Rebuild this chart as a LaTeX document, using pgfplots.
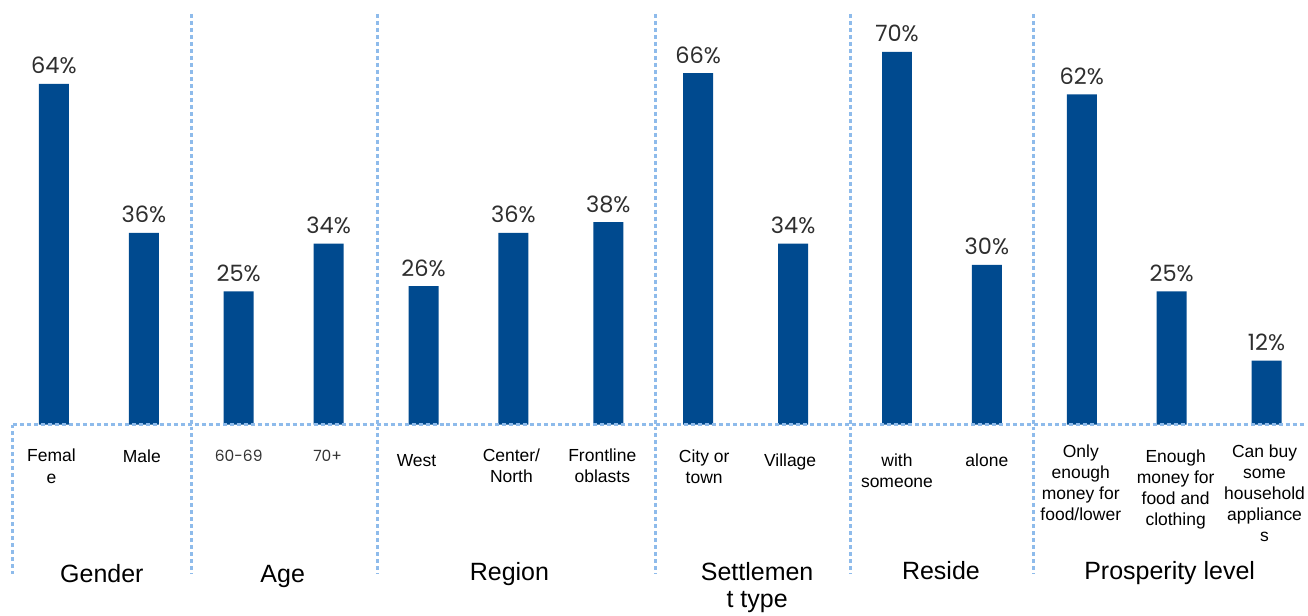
\documentclass[border=0pt]{standalone}
\usepackage{pgfplots}
\pgfplotsset{compat=1.18}
\usepackage{fontspec}
\setmainfont{Liberation Sans}
\newfontfamily\pop{Poppins}
\definecolor{barblue}{RGB}{0,74,143}
\definecolor{dotblue}{RGB}{142,187,235}
\newcommand{\cat}[3]{\node[anchor=base, inner sep=0pt, font=\fontsize{17.5bp}{21bp}\selectfont] at (#1,#2) {#3};}
\newcommand{\grp}[3]{\node[anchor=base, inner sep=0pt, font=\fontsize{25bp}{30bp}\selectfont] at (#1,#2) {#3};}
\begin{document}
\begin{tikzpicture}
\begin{axis}[
  scale only axis, width=1308bp, height=616bp,
  xmin=0, xmax=1308, ymin=-35.83, ymax=79.74,
  hide axis, clip=false,
  ybar, bar width=30,
  /pgf/number format/assume math mode=true,
  nodes near coords={\pgfmathprintnumber[assume math mode=true]{\pgfplotspointmeta}\%},
  nodes near coords style={font=\pop\fontsize{22.5bp}{26bp}\selectfont, color=black!82, anchor=base, yshift=10bp, inner sep=0pt},
]
\addplot[fill=barblue, draw=none] coordinates {
 (54,64) (144,36)
 (239,25) (329,34)
 (424,26) (514,36) (609,38)
 (699,66) (794,34)
 (898,70) (988,30)
 (1083,62) (1173,25) (1268,12)
};
\path (rel axis cs:0,0) rectangle (rel axis cs:1,1);
\end{axis}
\begin{scope}[x=1bp, y=-1bp, yshift=616bp]
\begin{scope}[dotblue, line width=3bp, dash pattern=on 4bp off 3bp]
\draw (13,425) -- (1308,425);
\draw (13,425) -- (13,575);
\foreach \xx in {192,378,656,851,1035} {\draw (\xx,14) -- (\xx,575);}
\end{scope}
\cat{51.5}{462.5}{Femal}
\cat{51.5}{484}{e}
\cat{142}{463}{Male}
\node[anchor=base, inner sep=0pt, font=\pop\fontsize{15.5bp}{20bp}\selectfont, color=black!80] at (239,462) {60-69};
\node[anchor=base, inner sep=0pt, font=\pop\fontsize{15.5bp}{20bp}\selectfont, color=black!80] at (328,462) {70+};
\cat{417}{467}{West}
\cat{512}{462}{Center/}
\cat{512}{483}{North}
\cat{603}{462}{Frontline}
\cat{603}{483.5}{oblasts}
\cat{705}{463}{City or}
\cat{705}{484.5}{town}
\cat{791}{467}{Village}
\cat{898}{467}{with}
\cat{898}{488}{someone}
\cat{988}{467}{alone}
\cat{1082}{458}{Only}
\cat{1082}{479.5}{enough}
\cat{1082}{500.5}{money for}
\cat{1082}{521.5}{food/lower}
\cat{1177}{463}{Enough}
\cat{1177}{484.5}{money for}
\cat{1177}{505.5}{food and}
\cat{1177}{526.5}{clothing}
\cat{1266}{458}{Can buy}
\cat{1266}{479.5}{some}
\cat{1266}{500.5}{household}
\cat{1266}{521.5}{appliance}
\cat{1266}{542.5}{s}
\grp{102}{583}{Gender}
\grp{283}{583}{Age}
\grp{510}{581}{Region}
\grp{758}{581}{Settlemen}
\grp{758}{608}{t type}
\grp{942}{580}{Reside}
\grp{1171}{580}{Prosperity level}
\end{scope}
\end{tikzpicture}
\end{document}
